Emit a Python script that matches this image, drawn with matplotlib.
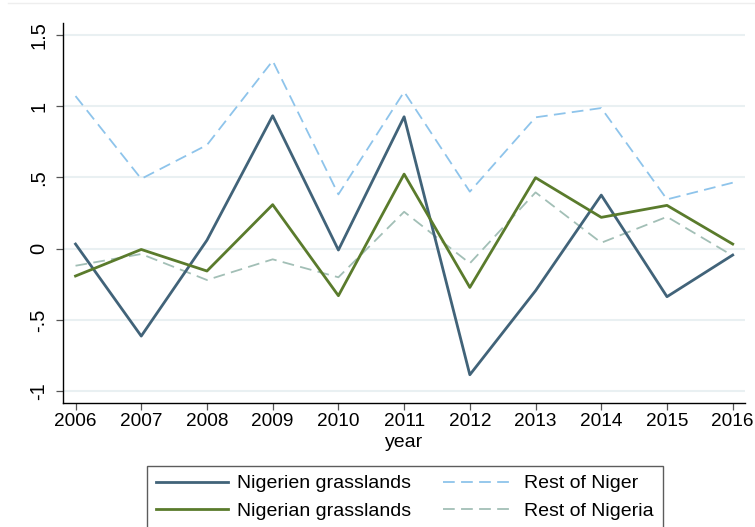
import matplotlib
matplotlib.use("Agg")
import matplotlib.pyplot as plt
from matplotlib.lines import Line2D

plt.rcParams['font.family'] = ['Liberation Sans', 'DejaVu Sans']

years = [2006, 2007, 2008, 2009, 2010, 2011, 2012, 2013, 2014, 2015, 2016]
nigerien_grass = [0.033, -0.612, 0.06, 0.932, -0.009, 0.925, -0.883, -0.294, 0.376, -0.336, -0.044]
nigerian_grass = [-0.191, -0.005, -0.156, 0.309, -0.329, 0.523, -0.271, 0.498, 0.22, 0.304, 0.033]
rest_niger = [1.07, 0.49, 0.727, 1.317, 0.381, 1.10, 0.40, 0.921, 0.986, 0.346, 0.463]
rest_nigeria = [-0.119, -0.037, -0.219, -0.074, -0.2, 0.259, -0.102, 0.395, 0.042, 0.224, -0.049]

yticks = [-1, -0.5, 0, 0.5, 1, 1.5]
ytick_labels = ['-1', '-.5', '0', '.5', '1', '1.5']

W, H = 755, 527
fig = plt.figure(figsize=(W / 100, H / 100), dpi=100)
fig.patch.set_facecolor('white')
ax = fig.add_axes([63.3 / W, 1 - 403.3 / H, (745 - 63.3) / W, (403.3 - 23) / H])

ax.plot(years, nigerien_grass, color='#416379', lw=2.0, label='Nigerien grasslands', zorder=4)
ax.plot(years, rest_niger, color='#8ec4eb', lw=1.3, dashes=(6.5, 3.5), label='Rest of Niger', zorder=3)
ax.plot(years, nigerian_grass, color='#5a7b2c', lw=2.0, label='Nigerian grasslands', zorder=4)
ax.plot(years, rest_nigeria, color='#a2bfb6', lw=1.3, dashes=(6.5, 3.5), label='Rest of Nigeria', zorder=3)

ax.set_xlim(2005.814, 2016.187)
ax.set_ylim(-1.083, 1.582)
ax.set_xticks(years)
ax.set_xticklabels([str(y) for y in years])
ax.set_yticks(yticks)
ax.set_yticklabels(ytick_labels, rotation=90, va='center')

for s in ['top', 'right']:
    ax.spines[s].set_visible(False)
for s in ['left', 'bottom']:
    ax.spines[s].set_color('black')
    ax.spines[s].set_linewidth(1.0)

ax.tick_params(axis='x', length=5, width=0.9, color='#555555', labelsize=13.7, pad=2)
ax.tick_params(axis='y', length=5, width=0.9, color='#555555', labelsize=14.5, pad=6)
ax.yaxis.grid(True, color='#e9f0f2', lw=1.5)
ax.set_axisbelow(True)
ax.set_xlabel('year', fontsize=14, labelpad=3)

handles, labels = ax.get_legend_handles_labels()
order = [0, 2, 1, 3]
leg = fig.legend([handles[i] for i in order], [labels[i] for i in order],
                 loc='upper left', bbox_to_anchor=(147 / W, 1 - 466 / H),
                 ncol=2, fontsize=14, frameon=True, fancybox=False,
                 handlelength=3.7, handletextpad=0.5, columnspacing=1.6,
                 labelspacing=0.5, borderpad=0.45, borderaxespad=0)
leg.get_frame().set_edgecolor('#333333')
leg.get_frame().set_linewidth(1.0)

fig.add_artist(Line2D([8 / W, 1], [1 - 3 / H, 1 - 3 / H], color='#eeeeee', lw=1.0))

fig.savefig('out.png', dpi=100, facecolor='white')
